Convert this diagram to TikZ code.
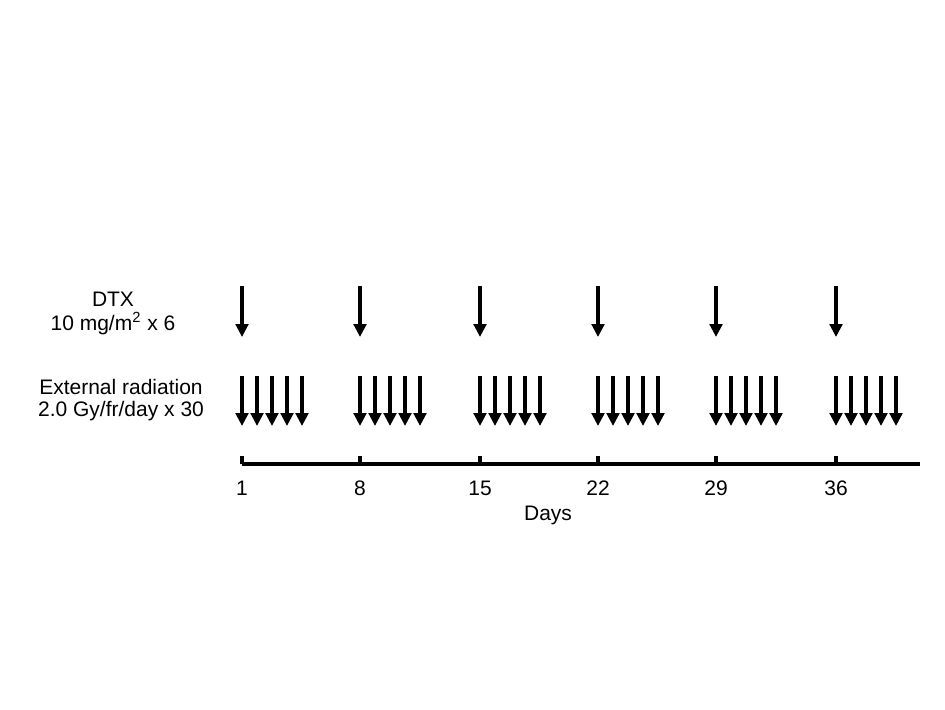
\documentclass[tikz,border=0pt]{standalone}
\usepackage{fontspec}
\setmainfont{Liberation Sans}
\usetikzlibrary{arrows.meta,positioning}

\begin{document}
\begin{tikzpicture}[x=0.5pt,y=-0.5pt,
    dose/.style={-{Triangle[length=6.5pt,width=6.3pt]},line width=1.7pt},
    lbl/.style={font=\fontsize{10.5}{11}\selectfont,align=center,inner sep=0pt}]
  \useasboundingbox (0,0) rectangle (945,709);
  % time axis
  \coordinate (ax0) at (242,464);
  \coordinate (ax1) at (920,464);
  \draw[line width=1.6pt] (ax0) -- (ax1);
  \foreach \d/\x in {1/242,8/360,15/480,22/598,29/716,36/836}{
    \coordinate (k\d) at (\x,464);
    \draw[line width=1.6pt] (k\d) -- ++(0,-8);
    \node[lbl,anchor=base] (t\d) at (\x,495) {\d};
    % weekly DTX
    \draw[dose] (\x,286) -- (\x,337);
    % daily radiation
    \foreach \k in {0,...,4}
      \draw[dose] (\x+15*\k,376) -- (\x+15*\k,426);
  }
  \node[lbl] (days) at (548,515) {Days};
  \node[lbl] (dtx) at (113,313) {DTX\\[1pt]10 mg/m\textsuperscript{2} x 6};
  \node[lbl] (ext) at (121,400) {External radiation\\2.0 Gy/fr/day x 30};
\end{tikzpicture}
\end{document}
